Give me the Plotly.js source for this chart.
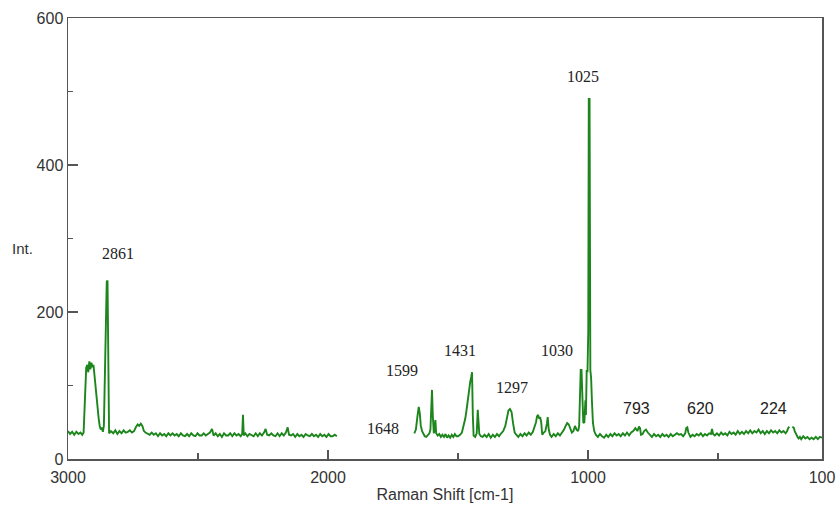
<!DOCTYPE html>
<html>
<head>
<meta charset="utf-8">
<script src="https://cdn.plot.ly/plotly-3.0.1.min.js"></script>
<style>html,body{margin:0;padding:0;background:#fff;}#chart{width:836px;height:506px;}</style>
</head>
<body>
<div id="chart"></div>
<script>
// Raman shift (cm-1) and intensity (null = no data)
const shift = [
  3000,2992,2984,2976,2968,2960,2952,2945,2940,2936,2933,2930,2926,2922,2918,2914,2910,2906,2902,2898,
  2894,2890,2886,2882,2878,2874,2870,2866,2862,2860,2857,2854,2851,2848,2845,2842,2835,2826,2818,2810,
  2802,2794,2786,2778,2770,2762,2754,2746,2738,2732,2726,2720,2714,2708,2702,2694,2686,2678,2670,2662,
  2654,2646,2638,2630,2622,2614,2606,2598,2590,2582,2574,2566,2558,2550,2542,2534,2526,2518,2510,2502,
  2494,2486,2478,2470,2462,2454,2446,2440,2432,2424,2416,2408,2400,2392,2384,2376,2368,2360,2352,2344,
  2336,2330,2327,2324,2318,2310,2302,2294,2286,2278,2270,2262,2254,2246,2240,2234,2226,2218,2210,2202,
  2194,2186,2178,2170,2162,2155,2150,2142,2134,2126,2118,2110,2102,2094,2086,2078,2070,2062,2054,2046,
  2038,2030,2022,2014,2006,1998,1990,1982,1974,1966,
  1800,
  1668,1662,1656,1651,1647,1643,1638,1633,1628,1622,1616,1610,1606,1603,1600,1597,1593,1590,1587,1584,
  1578,1572,1566,1560,1554,1548,1542,1536,1530,1524,1518,1512,1506,1500,1492,1485,1478,1472,1467,1462,
  1457,1453,1449,1446,1443,1440,1434,1428,1424,1421,1418,1412,1405,1398,1390,1382,1374,1366,1358,1350,
  1342,1334,1326,1318,1312,1306,1300,1294,1288,1282,1276,1268,1260,1252,1244,1236,1228,1220,1212,1204,
  1200,1196,1192,1188,1184,1180,1176,1170,1164,1158,1155,1151,1146,1140,1132,1124,1116,1108,1100,1092,
  1086,1080,1074,1068,1062,1056,1050,1044,1038,1034,1031,1028,1025,1022,1018,1014,1010,1008,1005,1002,
  999,997,994,991,988,985,981,976,970,962,954,946,938,930,922,914,906,898,890,882,
  874,866,858,850,842,834,826,818,810,804,800,796,790,784,777,770,762,754,746,738,
  730,722,714,706,698,690,682,674,666,658,650,642,634,626,622,618,614,606,598,590,
  582,574,566,558,550,542,534,527,523,519,512,504,496,488,480,472,464,456,448,440,
  432,424,416,408,400,392,384,376,368,360,352,344,336,328,320,312,304,296,288,280,
  272,264,256,248,240,234,230,226,222,214,208,205,202,198,194,190,185,180,172,164,
  156,148,140,132,124,116,108,100
];
const intensity = [
  38,34,37,33,37,34,36,33,36,70,110,124,128,118,133,122,131,125,128,112,
  104,88,72,55,45,40,43,37,45,80,105,186,241,243,60,35,38,35,39,34,
  38,35,39,36,37,39,36,38,44,47,45,48,45,38,36,34,33,36,33,35,
  31,35,32,34,31,35,32,35,32,34,31,35,32,31,34,31,35,32,31,35,
  32,32,35,32,34,36,41,32,35,31,34,30,35,32,32,35,31,35,32,34,
  31,34,60,32,35,31,34,32,31,35,31,35,32,36,41,33,32,35,32,31,
  35,31,35,32,36,43,33,32,34,30,34,31,33,30,34,32,31,34,31,33,
  30,34,31,33,30,34,31,31,33,31,
  null,
  35,40,58,71,62,45,38,34,31,30,33,35,40,60,94,60,35,40,53,35,
  32,34,30,33,30,34,29,32,29,33,30,34,31,31,33,36,45,55,67,82,
  95,105,112,118,60,32,30,35,67,50,34,31,30,33,30,34,29,33,30,34,
  31,35,38,45,58,66,68,64,48,36,33,30,34,31,35,32,36,33,37,44,
  50,58,60,55,57,50,33,36,38,48,57,40,33,30,34,31,35,32,36,40,
  45,49,47,42,36,38,45,40,38,45,83,121,121,70,49,50,80,60,121,118,
  173,490,490,121,110,80,49,38,33,30,34,31,29,33,30,34,31,35,32,34,
  31,35,32,36,32,36,38,42,38,44,42,33,34,38,40,36,33,30,34,31,
  33,30,34,31,33,30,34,31,33,35,33,34,31,35,42,43,36,30,33,31,
  34,32,35,31,34,32,35,34,41,34,32,35,32,36,33,35,32,37,34,36,
  33,38,34,37,34,38,35,39,35,38,36,40,35,38,34,38,35,39,36,38,
  35,39,36,38,35,38,42,44,null,44,42,38,35,32,30,28,30,27,31,28,
  30,27,29,27,30,27,30,29
];

// Peak labels as printed on the reference
const peakText  = ['2861','1025','1599','1431','1297','1030','1648','793','620','224'];
const peakAtX   = [2808, 1019, 1715, 1492, 1292, 1119, 1789, 812, 569, 285];
const peakAtY   = [279, 520, 121, 147, 97, 147, 42, 69, 69, 69];
const peakSerif = [true, true, true, true, true, true, true, false, false, false];

const xTickVals = [3000, 2000, 1000, 100];
const xMinorVals = [2500, 1500, 500];
const yTickVals = [0, 200, 400, 600];
const yMinorVals = [100, 300, 500];

const axisColor = '#555';
const annotations = peakText.map((t, i) => ({
  text: t, x: peakAtX[i], y: peakAtY[i], xref: 'x', yref: 'y', showarrow: false,
  xanchor: 'center', yanchor: 'middle',
  font: peakSerif[i] ? {family: 'Liberation Serif, Times New Roman, serif', size: 16, color: '#222'}
                     : {family: 'Liberation Sans, Arial, sans-serif', size: 16, color: '#222'}
}));
annotations.push({
  text: 'Int.', xref: 'paper', yref: 'paper', x: -0.077, y: 0.478, xanchor: 'left', yanchor: 'middle',
  showarrow: false, font: {family: 'Liberation Sans, Arial, sans-serif', size: 15, color: '#333'}
});

const data = [{
  type: 'scatter', mode: 'lines', x: shift, y: intensity, connectgaps: false,
  line: {color: '#1c861c', width: 1.9}, hoverinfo: 'x+y'
}];

const layout = {
  width: 836, height: 506,
  margin: {l: 68, r: 14, t: 18, b: 47},
  paper_bgcolor: '#fff', plot_bgcolor: '#fff',
  showlegend: false,
  font: {family: 'Liberation Sans, Arial, sans-serif', color: '#333'},
  xaxis: {
    range: [3000, 100], tickvals: xTickVals, ticktext: xTickVals.map(String),
    ticks: 'inside', ticklen: 9, tickwidth: 1.5, tickcolor: axisColor,
    ticklabelstandoff: 3,
    minor: {tickvals: xMinorVals, ticks: 'inside', ticklen: 6, tickwidth: 1.5, tickcolor: axisColor},
    showline: true, mirror: true, linecolor: axisColor, linewidth: 1.5,
    showgrid: false, zeroline: false,
    tickfont: {family: 'Liberation Sans, Arial, sans-serif', size: 16, color: '#333'},
    title: {text: 'Raman Shift [cm-1]', font: {family: 'Liberation Sans, Arial, sans-serif', size: 16, color: '#333'}, standoff: 4}
  },
  yaxis: {
    range: [0, 600], tickvals: yTickVals, ticktext: yTickVals.map(String),
    ticks: 'inside', ticklen: 10, tickwidth: 1.5, tickcolor: axisColor,
    minor: {tickvals: yMinorVals, ticks: 'inside', ticklen: 5, tickwidth: 1.5, tickcolor: axisColor},
    showline: true, mirror: true, linecolor: axisColor, linewidth: 1.5,
    showgrid: false, zeroline: false,
    tickfont: {family: 'Liberation Sans, Arial, sans-serif', size: 16, color: '#333'}
  },
  annotations: annotations
};

Plotly.newPlot('chart', data, layout, {displayModeBar: false, staticPlot: true});
</script>
</body>
</html>
